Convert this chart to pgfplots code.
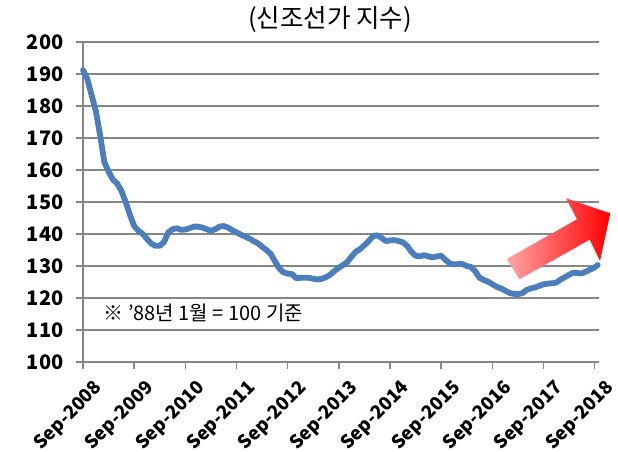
\documentclass[border=0pt]{standalone}
\usepackage{fontspec}
\setmainfont{Noto Sans CJK KR}
\usepackage{pgfplots}
\usepackage{pgfplotstable}
\pgfplotsset{compat=1.18}
\definecolor{lineblue}{RGB}{74,126,189}
\definecolor{gridgray}{RGB}{134,134,134}
\definecolor{pinkred}{RGB}{255,165,165}
\pgfplotstableread{
m v
0 191.2
1 188.5
2 183.5
3 178.5
4 171
5 162.5
6 159.5
7 157
8 155.8
9 153.5
10 150
11 146
12 142.5
13 141
14 140
15 138.5
16 137
17 136.3
18 136.3
19 137.5
20 140.5
21 141.5
22 141.8
23 141.3
24 141.4
25 141.8
26 142.3
27 142.3
28 142
29 141.5
30 141
31 141.5
32 142.3
33 142.5
34 142
35 141.2
36 140.5
37 139.8
38 139.2
39 138.6
40 137.8
41 137.1
42 136
43 135
44 133.8
45 131.5
46 129.3
47 128
48 127.6
49 127.5
50 126.2
51 126.3
52 126.3
53 126.3
54 126
55 125.8
56 126
57 126.5
58 127.3
59 128.5
60 129.5
61 130.3
62 131.3
63 133
64 134.5
65 135.3
66 136.5
67 137.8
68 139.3
69 139.6
70 138.8
71 137.8
72 138
73 138.1
74 137.8
75 137.4
76 136.3
77 134.5
78 133.2
79 133
80 133.4
81 133
82 132.7
83 133
84 133.2
85 131.9
86 130.8
87 130.5
88 130.6
89 130.6
90 130
91 129.7
92 128.3
93 126.3
94 125.6
95 125.1
96 124.3
97 123.5
98 123
99 122.3
100 121.6
101 121.3
102 121.2
103 121.5
104 122.5
105 123
106 123.3
107 123.8
108 124.3
109 124.5
110 124.6
111 124.8
112 125.8
113 126.5
114 127.3
115 127.9
116 127.8
117 127.7
118 128.3
119 128.9
120 129.6
120.7 130.3
}\pricetable
\begin{document}
\begin{tikzpicture}
\begin{axis}[
  scale only axis, width=516pt, height=320pt,
  xmin=0, xmax=121, ymin=100, ymax=200,
  axis x line*=bottom, axis y line*=left,
  axis line style={gridgray, line width=1.5pt},
  ytick={100,110,...,200}, ymajorgrids,
  grid style={gridgray, line width=1.8pt},
  xtick={0,12,...,120},
  xticklabels={Sep-2008,Sep-2009,Sep-2010,Sep-2011,Sep-2012,Sep-2013,Sep-2014,Sep-2015,Sep-2016,Sep-2017,Sep-2018},
  tick align=outside, major tick length=7pt,
  tick style={gridgray, line width=1.5pt},
  tick label style={font=\fontsize{18.5}{18.5}\selectfont\bfseries},
  /pgf/number format/assume math mode=true,
  yticklabel style={font=\fontsize{20}{20}\selectfont\bfseries, xshift=-9pt},
  xticklabel style={xshift=10pt, yshift=-5pt, rotate=45, anchor=north east},
  clip=false,
]
\addplot[lineblue, line width=5.8pt, line join=round, line cap=round] table[x=m, y=v] {\pricetable};
\shade[left color=pinkred, right color=red]
  (axis cs:99.37,132.19) -- (axis cs:102.34,125.84) -- (axis cs:118.83,138.25)
  -- (axis cs:121.24,131.56) -- (axis cs:123.65,146.47) -- (axis cs:113.28,151.16)
  -- (axis cs:115.85,144.59) -- cycle;
\node[font=\fontsize{25.5}{25.5}\selectfont] at (axis cs:57.9,206.9) {(신조선가 지수)};
\node[anchor=west, font=\fontsize{20}{20}\selectfont] at (axis cs:4.0,115.3) {※ '88년 1월 = 100 기준};
\end{axis}
\pgfresetboundingbox
\path (current axis.south west) ++(-83pt,-89pt) rectangle ++(618pt,451pt);
\end{tikzpicture}
\end{document}
